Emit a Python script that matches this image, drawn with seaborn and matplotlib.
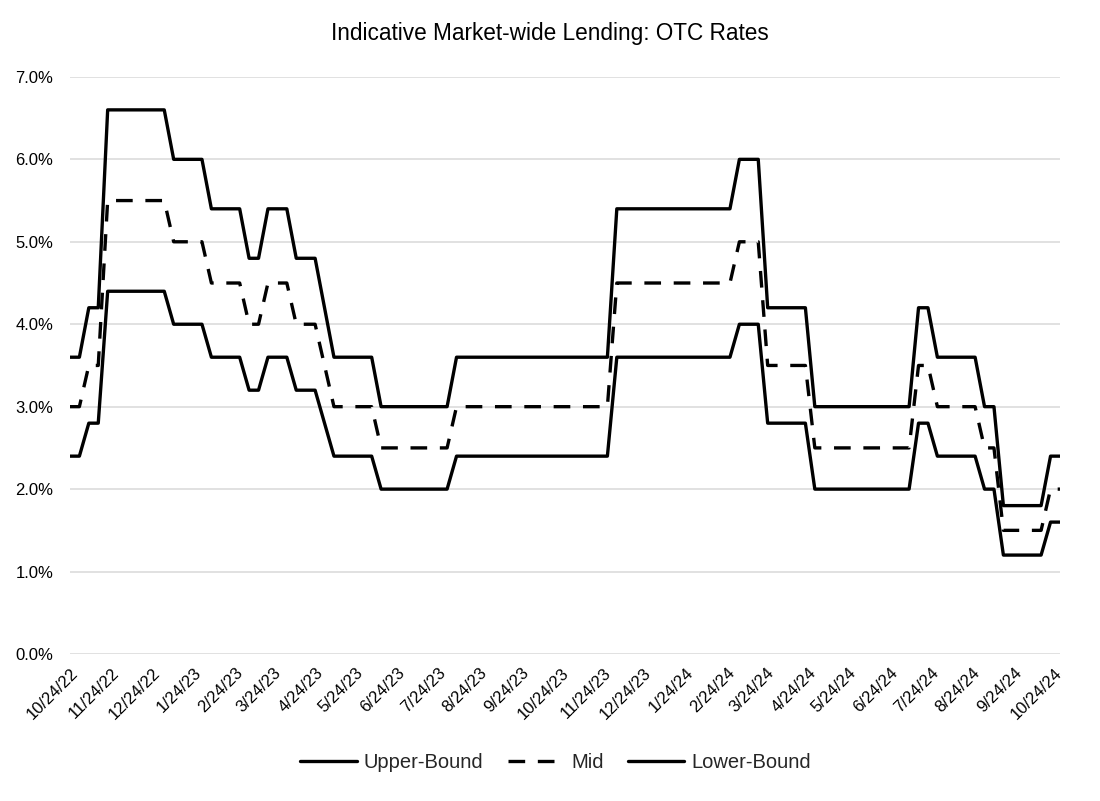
import pandas as pd
import numpy as np
import seaborn as sns
import matplotlib.pyplot as plt
from matplotlib.ticker import FormatStrFormatter


# weekly observations starting 10/24/22
start_date = '2022-10-24'

upper_bound = [
    3.6, 3.6, 4.2, 4.2,
    6.6, 6.6, 6.6, 6.6, 6.6, 6.6, 6.6,
    6.0, 6.0, 6.0, 6.0,
    5.4, 5.4, 5.4, 5.4,
    4.8, 4.8,
    5.4, 5.4, 5.4,
    4.8, 4.8, 4.8,
    4.2,
    3.6, 3.6, 3.6, 3.6, 3.6,
    3.0, 3.0, 3.0, 3.0, 3.0, 3.0, 3.0, 3.0,
    3.6, 3.6, 3.6, 3.6, 3.6, 3.6, 3.6, 3.6, 3.6, 3.6, 3.6, 3.6, 3.6, 3.6, 3.6, 3.6, 3.6,
    5.4, 5.4, 5.4, 5.4, 5.4, 5.4, 5.4, 5.4, 5.4, 5.4, 5.4, 5.4, 5.4,
    6.0, 6.0, 6.0,
    4.2, 4.2, 4.2, 4.2, 4.2,
    3.0, 3.0, 3.0, 3.0, 3.0, 3.0, 3.0, 3.0, 3.0, 3.0, 3.0,
    4.2, 4.2,
    3.6, 3.6, 3.6, 3.6, 3.6,
    3.0, 3.0,
    1.8, 1.8, 1.8, 1.8, 1.8,
    2.4, 2.4,
]

mid = [
    3.0, 3.0, 3.5, 3.5,
    5.5, 5.5, 5.5, 5.5, 5.5, 5.5, 5.5,
    5.0, 5.0, 5.0, 5.0,
    4.5, 4.5, 4.5, 4.5,
    4.0, 4.0,
    4.5, 4.5, 4.5,
    4.0, 4.0, 4.0,
    3.5,
    3.0, 3.0, 3.0, 3.0, 3.0,
    2.5, 2.5, 2.5, 2.5, 2.5, 2.5, 2.5, 2.5,
    3.0, 3.0, 3.0, 3.0, 3.0, 3.0, 3.0, 3.0, 3.0, 3.0, 3.0, 3.0, 3.0, 3.0, 3.0, 3.0, 3.0,
    4.5, 4.5, 4.5, 4.5, 4.5, 4.5, 4.5, 4.5, 4.5, 4.5, 4.5, 4.5, 4.5,
    5.0, 5.0, 5.0,
    3.5, 3.5, 3.5, 3.5, 3.5,
    2.5, 2.5, 2.5, 2.5, 2.5, 2.5, 2.5, 2.5, 2.5, 2.5, 2.5,
    3.5, 3.5,
    3.0, 3.0, 3.0, 3.0, 3.0,
    2.5, 2.5,
    1.5, 1.5, 1.5, 1.5, 1.5,
    2.0, 2.0,
]

lower_bound = [
    2.4, 2.4, 2.8, 2.8,
    4.4, 4.4, 4.4, 4.4, 4.4, 4.4, 4.4,
    4.0, 4.0, 4.0, 4.0,
    3.6, 3.6, 3.6, 3.6,
    3.2, 3.2,
    3.6, 3.6, 3.6,
    3.2, 3.2, 3.2,
    2.8,
    2.4, 2.4, 2.4, 2.4, 2.4,
    2.0, 2.0, 2.0, 2.0, 2.0, 2.0, 2.0, 2.0,
    2.4, 2.4, 2.4, 2.4, 2.4, 2.4, 2.4, 2.4, 2.4, 2.4, 2.4, 2.4, 2.4, 2.4, 2.4, 2.4, 2.4,
    3.6, 3.6, 3.6, 3.6, 3.6, 3.6, 3.6, 3.6, 3.6, 3.6, 3.6, 3.6, 3.6,
    4.0, 4.0, 4.0,
    2.8, 2.8, 2.8, 2.8, 2.8,
    2.0, 2.0, 2.0, 2.0, 2.0, 2.0, 2.0, 2.0, 2.0, 2.0, 2.0,
    2.8, 2.8,
    2.4, 2.4, 2.4, 2.4, 2.4,
    2.0, 2.0,
    1.2, 1.2, 1.2, 1.2, 1.2,
    1.6, 1.6,
]

tick_labels = [
    '10/24/22', '11/24/22', '12/24/22', '1/24/23', '2/24/23', '3/24/23',
    '4/24/23', '5/24/23', '6/24/23', '7/24/23', '8/24/23', '9/24/23',
    '10/24/23', '11/24/23', '12/24/23', '1/24/24', '2/24/24', '3/24/24',
    '4/24/24', '5/24/24', '6/24/24', '7/24/24', '8/24/24', '9/24/24',
    '10/24/24',
]

series_names = ['Upper-Bound', 'Mid', 'Lower-Bound']

dates = pd.date_range(start_date, periods=len(mid), freq='7D')
df = pd.DataFrame({
    'Date': dates,
    'Upper-Bound': upper_bound,
    'Mid': mid,
    'Lower-Bound': lower_bound,
}).melt(id_vars='Date', var_name='Series', value_name='Rate')

sns.set_theme(style='white')
plt.rcParams['font.family'] = ['Liberation Sans', 'DejaVu Sans']

fig = plt.figure(figsize=(11, 8.01), dpi=100)
ax = fig.add_axes([0.0636, 0.1835, 0.9, 0.7205])

sns.lineplot(
    data=df, x='Date', y='Rate', hue='Series', style='Series',
    hue_order=series_names, style_order=series_names,
    palette={s: 'black' for s in series_names},
    dashes={'Upper-Bound': '', 'Mid': (5, 3.8), 'Lower-Bound': ''},
    linewidth=2.4, ax=ax,
)

ax.set_ylim(0, 7)
ax.set_yticks(np.arange(0, 7.01, 1))
ax.yaxis.set_major_formatter(FormatStrFormatter('%.1f%%'))
ax.set_xlim(dates[0], dates[-1])
ticks = pd.to_datetime(tick_labels, format='%m/%d/%y')
ax.set_xticks(ticks)
ax.set_xticklabels(tick_labels, rotation=45, ha='right', rotation_mode='anchor')
ax.tick_params(axis='both', length=0, labelsize=12, colors='black')
ax.tick_params(axis='x', pad=8)
ax.tick_params(axis='y', pad=12)
ax.grid(axis='y', color='#d9d9d9', linewidth=1.1)
ax.grid(axis='x', visible=False)
for side in ['top', 'right', 'left', 'bottom']:
    ax.spines[side].set_visible(False)
ax.set_xlabel('')
ax.set_ylabel('')

handles, labels = ax.get_legend_handles_labels()
ax.legend_.remove()
fig.legend(
    handles, labels, loc='center', bbox_to_anchor=(0.505, 0.048), ncol=3,
    frameon=False, fontsize=14.5, handlelength=2.8, handletextpad=0.35,
    columnspacing=1.2,
)

fig.text(0.5, 0.958, 'Indicative Market-wide Lending: OTC Rates',
         ha='center', va='center', fontsize=16.3, color='black')

fig.savefig('out.png', dpi=100)
